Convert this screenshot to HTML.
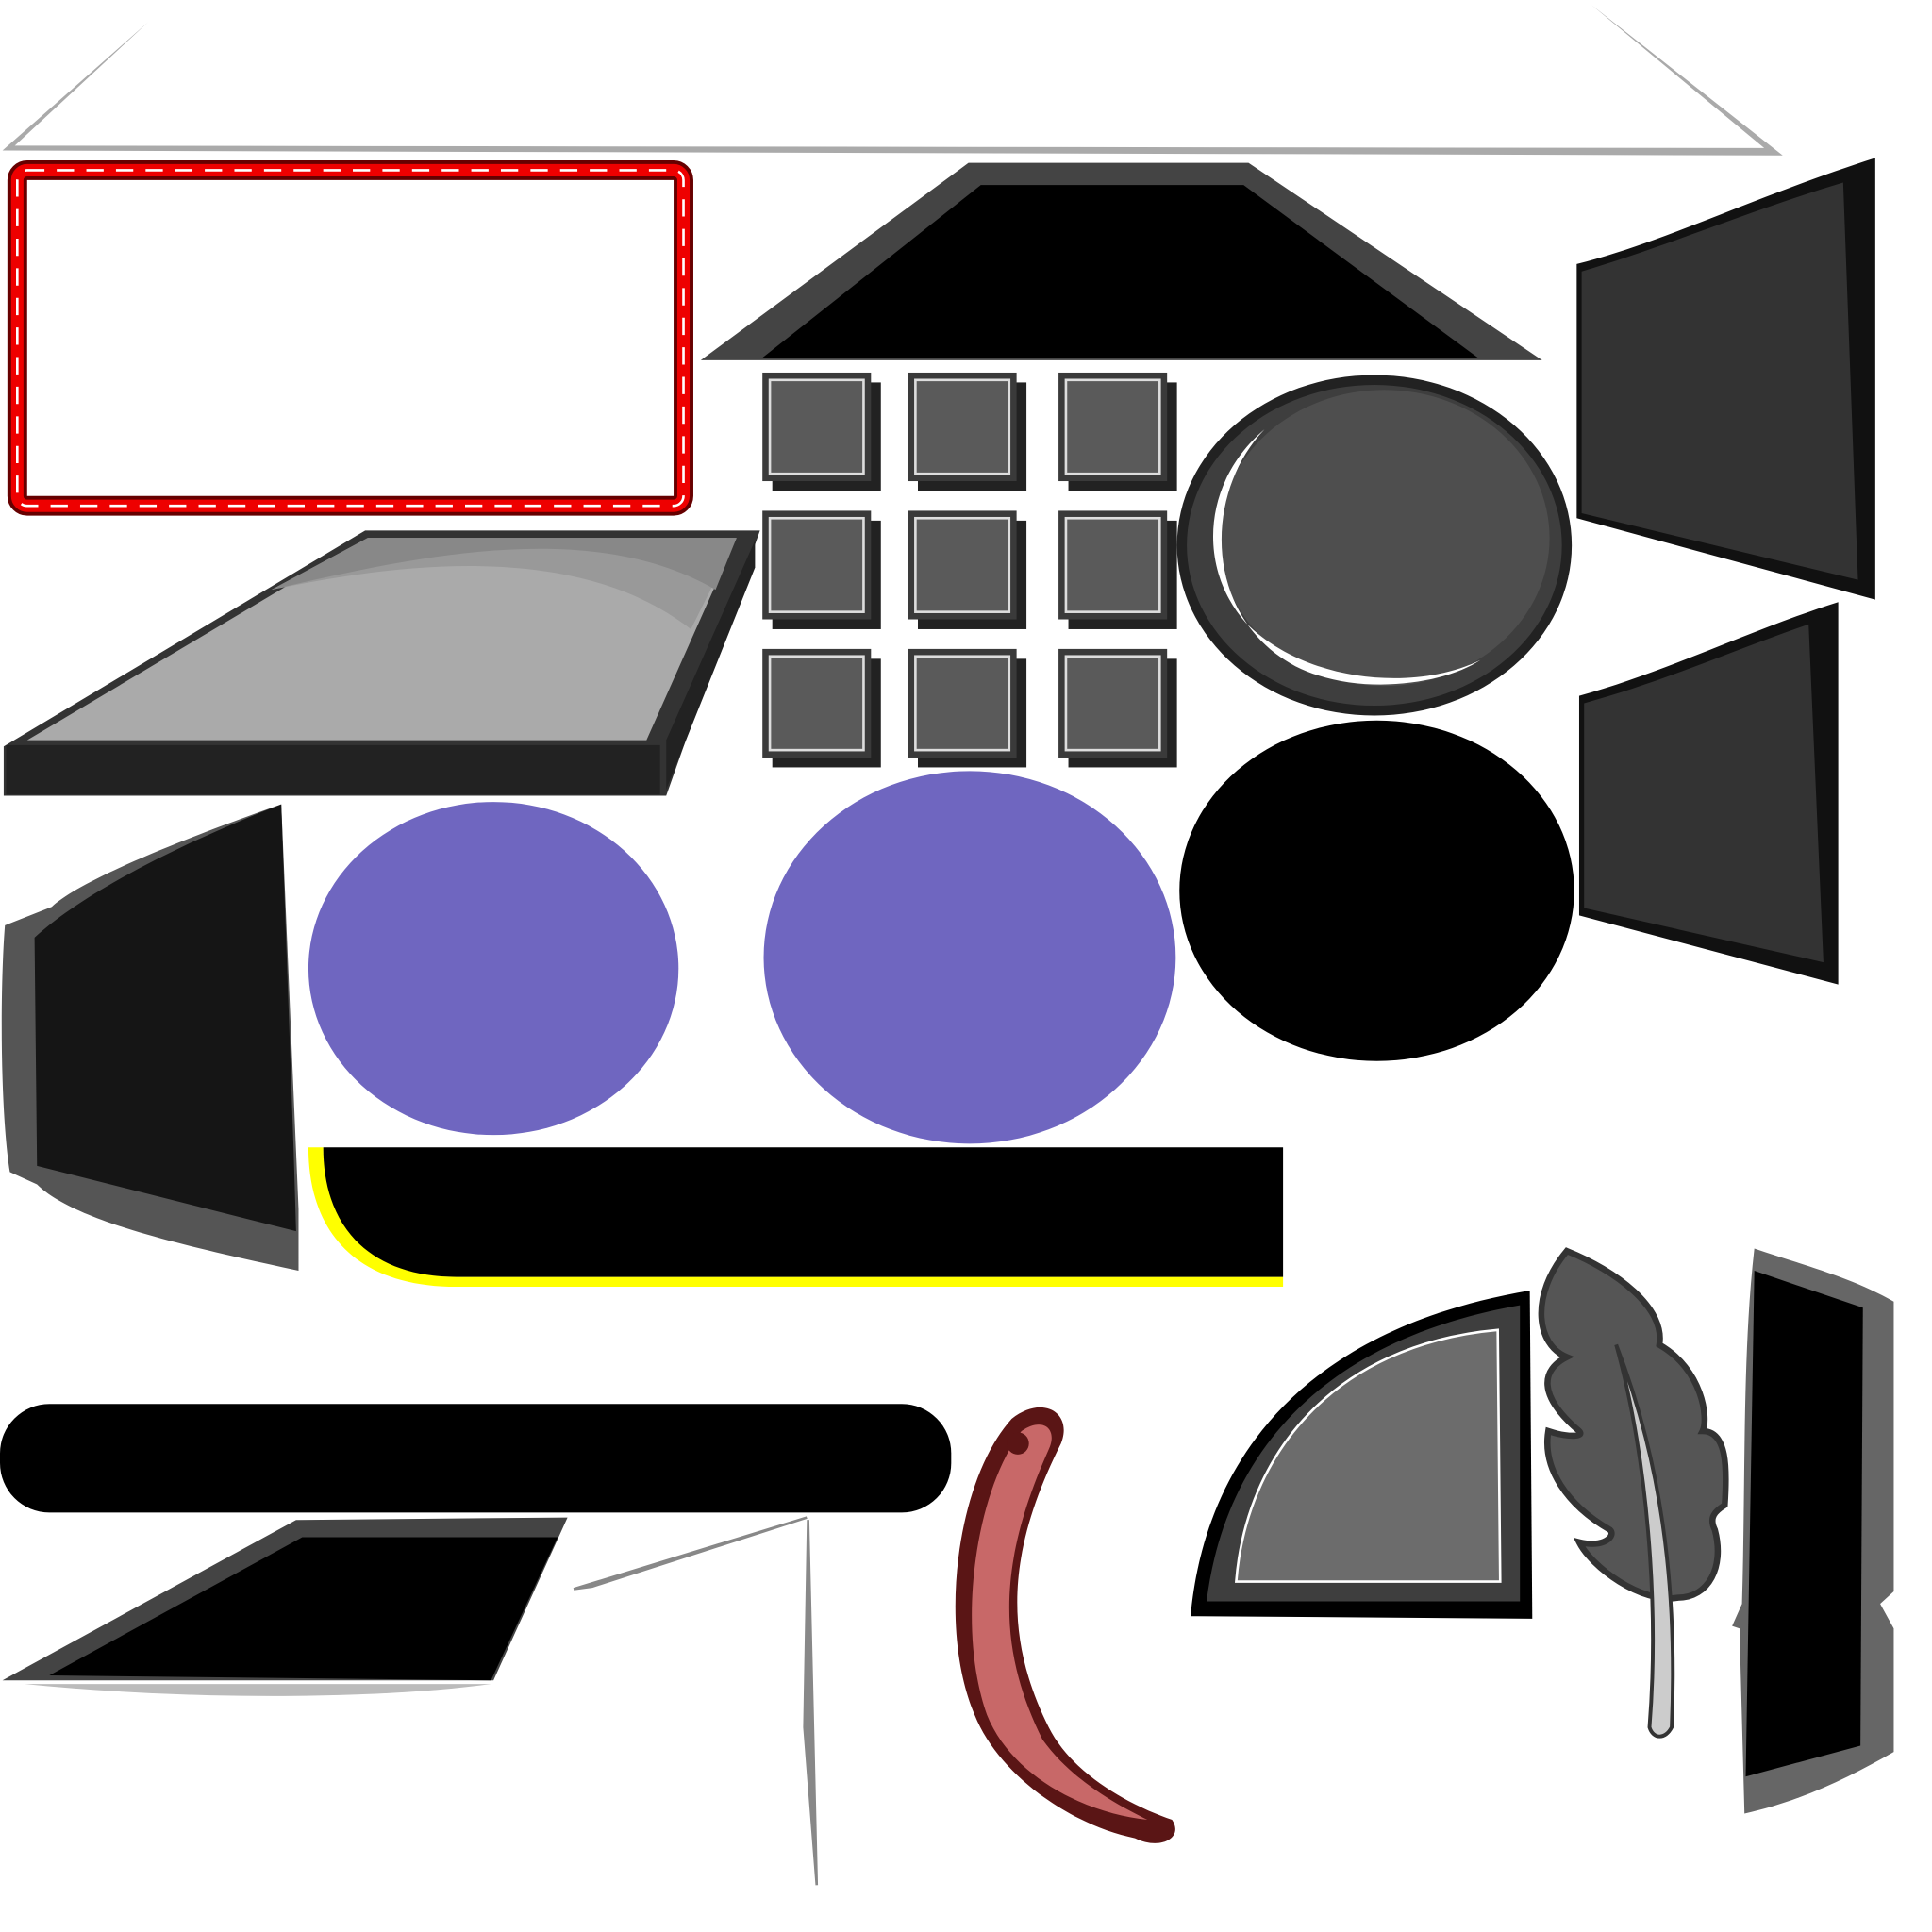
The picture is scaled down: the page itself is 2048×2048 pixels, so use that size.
<!DOCTYPE html>
<html><head><style>html,body{margin:0;padding:0;background:#fff}svg{display:block}</style></head><body>
<svg width="2048" height="2048" viewBox="0 0 1566 1566" xmlns="http://www.w3.org/2000/svg">
<rect width="1566" height="1566" fill="#fff"/>
<path d="M120 18 L2 122 L1445 126 L1290 4 L1430 120 L12 118 Z" fill="#aaa"/>
<rect x="14" y="138" width="540" height="272" rx="8" fill="none" stroke="#600" stroke-width="16"/>
<rect x="14" y="138" width="540" height="272" rx="8" fill="none" stroke="#e00" stroke-width="10"/>
<rect x="14" y="138" width="540" height="272" rx="8" fill="none" stroke="#fff" stroke-width="2" stroke-dasharray="14 10"/>
<path d="M568 292 L785 132 L1012 132 L1250 292 Z" fill="#444"/>
<path d="M618 290 L795 150 L1008 150 L1198 290 Z" fill="#000"/>
<path d="M3 605 L296 430 L616 430 L540 645 L3 645 Z" fill="#333"/>
<path d="M22 600 L298 436 L597 436 L524 600 Z" fill="#aaa"/>
<path d="M220 478 C330 455 470 440 560 510 L597 436 L298 436 Z" fill="#999"/>
<path d="M298 436 L597 436 L580 478 C480 420 340 450 220 478 Z" fill="#888"/>
<rect x="5" y="604" width="530" height="40" fill="#222"/>
<path d="M540 600 L612 438 L612 460 L540 640 Z" fill="#222"/>
<g>
<g id="sq"><rect x="626" y="310" width="88" height="88" fill="#222"/><rect x="618" y="302" width="88" height="88" fill="#3a3a3a"/><rect x="624" y="308" width="76" height="76" fill="#5a5a5a" stroke="#ddd" stroke-width="2"/></g>
<use href="#sq" x="118"/><use href="#sq" x="240"/>
<use href="#sq" y="112"/><use href="#sq" x="118" y="112"/><use href="#sq" x="240" y="112"/>
<use href="#sq" y="224"/><use href="#sq" x="118" y="224"/><use href="#sq" x="240" y="224"/>
</g>
<ellipse cx="1114" cy="442" rx="160" ry="138" fill="#222"/>
<ellipse cx="1114" cy="442" rx="152" ry="130" fill="#3e3e3e"/>
<ellipse cx="1122" cy="436" rx="134" ry="120" fill="#4e4e4e"/>
<path d="M1025 348 C975 400 975 500 1050 540 C1100 565 1170 555 1200 535 C1150 560 1060 555 1010 505 C970 460 975 390 1025 348 Z" fill="#fff"/>
<ellipse cx="1116" cy="722" rx="160" ry="138" fill="#000"/>
<ellipse cx="400" cy="785" rx="150" ry="135" fill="#6f66c0"/>
<ellipse cx="786" cy="776" rx="167" ry="151" fill="#6f66c0"/>
<path d="M1278 214 C1350 196 1420 160 1520 128 L1520 486 L1278 420 Z" fill="#111"/>
<path d="M1282 220 C1350 200 1420 170 1494 148 L1506 470 L1282 416 Z" fill="#333"/>
<path d="M1280 564 C1350 545 1420 510 1490 488 L1490 798 L1280 742 Z" fill="#111"/>
<path d="M1284 570 C1350 552 1410 525 1466 506 L1478 780 L1284 736 Z" fill="#333"/>
<path d="M4 750 L42 735 C60 718 120 690 228 652 L242 980 L242 1030 C150 1010 60 990 30 960 L8 950 C0 900 0 800 4 750 Z" fill="#555"/>
<path d="M28 760 C60 730 130 690 228 652 L238 932 L240 998 L30 945 Z" fill="#151515"/>
<path d="M250 930 L262 930 C262 990 300 1035 370 1035 L1040 1035 L1040 1043 L370 1043 C290 1043 250 1000 250 930 Z" fill="#ff0"/>
<path d="M262 930 L1040 930 L1040 1035 L370 1035 C300 1035 262 995 262 930 Z" fill="#000"/>
<rect x="0" y="1138" width="771" height="88" rx="40" fill="#000"/>
<path d="M2 1362 L240 1232 L460 1230 L400 1362 Z" fill="#444"/>
<path d="M40 1358 L245 1246 L452 1246 L398 1362 Z" fill="#000"/>
<path d="M20 1365 L398 1365 C300 1378 150 1378 20 1365 Z" fill="#bbb"/>
<path d="M465 1288 L654 1230 L480 1286 Z" fill="#888" stroke="#888" stroke-width="2"/>
<path d="M655 1232 L662 1528 L652 1400 Z" fill="#888" stroke="#888" stroke-width="2"/>
<path d="M820 1150 C845 1130 870 1145 860 1170 C820 1250 810 1320 850 1400 C870 1440 920 1465 950 1475 C960 1490 940 1500 920 1490 C870 1480 810 1440 790 1390 C760 1320 775 1200 820 1150 Z" fill="#5a1515"/>
<path d="M828 1160 C845 1148 858 1158 850 1175 C812 1260 805 1330 845 1410 C870 1445 910 1465 930 1475 C880 1470 820 1440 800 1390 C775 1320 790 1210 828 1160 Z" fill="#c86868"/>
<circle cx="825" cy="1170" r="9" fill="#5a1515"/>
<path d="M965 1310 C975 1200 1040 1080 1240 1046 L1242 1312 Z" fill="#000"/>
<path d="M978 1298 C990 1200 1050 1090 1232 1058 L1232 1298 Z" fill="#3e3e3e"/>
<path d="M1002 1282 C1010 1180 1080 1090 1214 1078 L1216 1282 Z" fill="#6c6c6c" stroke="#fff" stroke-width="2"/>
<path d="M1270 1014 C1310 1030 1350 1060 1345 1090 C1380 1110 1385 1150 1380 1160 C1400 1160 1400 1190 1398 1220 C1390 1225 1385 1230 1390 1240 C1398 1270 1385 1295 1360 1295 C1330 1300 1290 1270 1280 1250 C1300 1255 1310 1245 1305 1240 C1270 1220 1250 1190 1255 1160 C1270 1165 1285 1165 1280 1160 C1245 1130 1250 1110 1270 1100 C1245 1090 1240 1050 1270 1014 Z" fill="#555" stroke="#333" stroke-width="5"/>
<path d="M1310 1090 C1345 1180 1360 1280 1355 1400 C1350 1410 1340 1410 1337 1400 C1345 1300 1335 1180 1310 1090 Z" fill="#ccc" stroke="#333" stroke-width="3"/>
<path d="M1422 1012 C1460 1025 1500 1035 1535 1055 L1535 1290 L1524 1300 L1535 1320 L1535 1420 C1500 1440 1460 1460 1414 1470 L1410 1320 L1404 1318 L1412 1300 C1415 1200 1412 1100 1422 1012 Z" fill="#666"/>
<path d="M1422 1030 L1510 1060 L1508 1415 L1415 1440 Z" fill="#000"/>
</svg>
</body></html>
